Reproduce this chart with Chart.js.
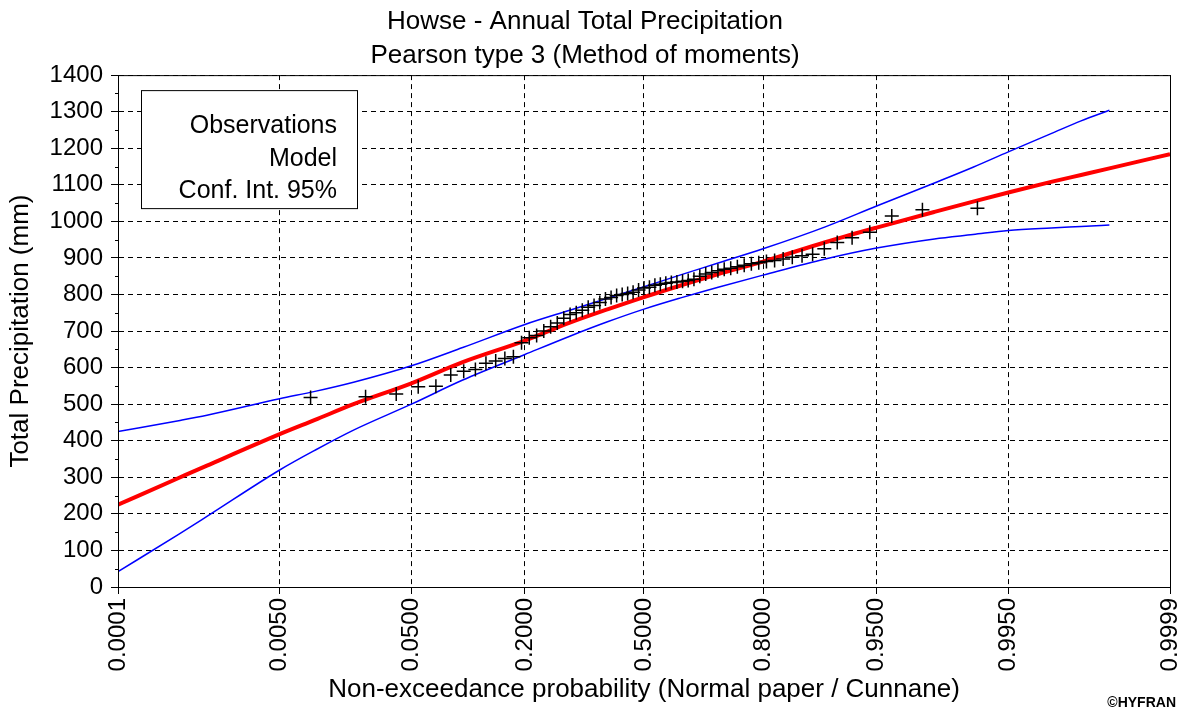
<!DOCTYPE html>
<html>
<head>
<meta charset="utf-8">
<title>Howse - Annual Total Precipitation</title>
<script src="https://cdn.jsdelivr.net/npm/chart.js@4.4.1/dist/chart.umd.min.js"></script>
<style>
  html, body { margin: 0; padding: 0; background: #fff; }
  #wrap { width: 1183px; height: 712px; }
</style>
</head>
<body>
<div id="wrap"><canvas id="freqChart" width="1183" height="712"></canvas></div>
<script>
// probability axis (normal paper)
const xTickProbs = [0.0001, 0.005, 0.05, 0.2, 0.5, 0.8, 0.95, 0.995, 0.9999]
const xTickLabels = ["0.0001", "0.0050", "0.0500", "0.2000", "0.5000", "0.8000", "0.9500", "0.9950", "0.9999"]

// observations (Cunnane plotting positions)
const obsProbs = [
  0.0092, 0.0245, 0.0399, 0.0552, 0.0706, 0.0859, 0.1012, 0.1166, 0.1319, 0.1472,
  0.1626, 0.1779, 0.1933, 0.2086, 0.2239, 0.2393, 0.2546, 0.2699, 0.2853, 0.3006,
  0.3160, 0.3313, 0.3466, 0.3620, 0.3773, 0.3926, 0.4080, 0.4233, 0.4387, 0.4540,
  0.4693, 0.4847, 0.5000, 0.5153, 0.5307, 0.5460, 0.5613, 0.5767, 0.5920, 0.6074,
  0.6227, 0.6380, 0.6534, 0.6687, 0.6840, 0.6994, 0.7147, 0.7301, 0.7454, 0.7607,
  0.7761, 0.7914, 0.8067, 0.8221, 0.8374, 0.8528, 0.8681, 0.8834, 0.8988, 0.9141,
  0.9294, 0.9448, 0.9601, 0.9755, 0.9908
]
const obsValues = [
  518, 520, 528, 548, 549, 580, 590, 595, 612, 618,
  625, 630, 668, 682, 688, 700, 712, 722, 735, 745,
  750, 757, 765, 770, 778, 788, 792, 797, 800, 803,
  806, 812, 818, 820, 825, 828, 831, 833, 834, 836,
  838, 842, 850, 856, 860, 865, 869, 872, 876, 880,
  884, 887, 890, 893, 897, 902, 906, 910, 925, 942,
  955, 970, 1015, 1032, 1036
]

// fitted Pearson III
const modelProbs = [0.0001, 0.0005, 0.001, 0.005, 0.01, 0.02, 0.05, 0.1, 0.2, 0.3, 0.4, 0.5,
  0.6, 0.7, 0.8, 0.9, 0.95, 0.98, 0.99, 0.995, 0.998, 0.999, 0.9995, 0.9999]
const modelValues = [225, 298, 332, 418, 457, 500, 557, 615, 674, 723, 760, 793,
  824, 856, 890, 943, 983, 1026, 1054, 1079, 1108, 1127, 1145, 1184]

// 95% confidence interval
const ciProbs = [0.0001, 0.0005, 0.001, 0.005, 0.01, 0.02, 0.05, 0.1, 0.2, 0.3, 0.4, 0.5,
  0.6, 0.7, 0.8, 0.9, 0.95, 0.98, 0.99, 0.995, 0.998, 0.999, 0.9995]
const ciUpper = [425, 455, 470, 515, 535, 560, 605, 655, 718, 757, 790, 821,
  853, 886, 925, 985, 1042, 1105, 1148, 1190, 1240, 1275, 1304]
const ciLower = [42, 144, 193, 320, 374, 429, 500, 566, 636, 686, 726, 760,
  790, 820, 853, 897, 927, 952, 964, 975, 982, 986, 990]

const legendLabels = ["Observations", "Model", "Conf. Int. 95%"]

// inverse standard normal (Acklam)
function normInv(p) {
  const a = [-39.69683028665376, 220.9460984245205, -275.9285104469687, 138.3577518672690, -30.66479806614716, 2.506628277459239]
  const b = [-54.47609879822406, 161.5858368580409, -155.6989798598866, 66.80131188771972, -13.28068155288572]
  const c = [-0.007784894002430293, -0.3223964580411365, -2.400758277161838, -2.549732539343734, 4.374664141464968, 2.938163982698783]
  const d = [0.007784695709041462, 0.3224671290700398, 2.445134137142996, 3.754408661907416]
  const plow = 0.02425
  if (p < plow) {
    const q = Math.sqrt(-2 * Math.log(p))
    return (((((c[0]*q+c[1])*q+c[2])*q+c[3])*q+c[4])*q+c[5]) / ((((d[0]*q+d[1])*q+d[2])*q+d[3])*q+1)
  }
  if (p <= 1 - plow) {
    const q = p - 0.5, r = q * q
    return (((((a[0]*r+a[1])*r+a[2])*r+a[3])*r+a[4])*r+a[5])*q / (((((b[0]*r+b[1])*r+b[2])*r+b[3])*r+b[4])*r+1)
  }
  const q = Math.sqrt(-2 * Math.log(1 - p))
  return -(((((c[0]*q+c[1])*q+c[2])*q+c[3])*q+c[4])*q+c[5]) / ((((d[0]*q+d[1])*q+d[2])*q+d[3])*q+1)
}

function toPoints(probs, values) {
  return probs.map((p, i) => ({ x: normInv(p), y: values[i] }))
}

const fontFamily = '"Liberation Sans", Arial, sans-serif'
Chart.defaults.font.family = fontFamily
Chart.defaults.color = "#000"

// frame, minor ticks, legend box and stamp
const extras = {
  id: "extras",
  afterDraw(chart) {
    const { ctx, chartArea: a, scales: { y } } = chart
    ctx.save()
    ctx.strokeStyle = "#000"
    ctx.lineWidth = 1
    ctx.strokeRect(a.left + 0.5, a.top + 0.5, a.right - a.left, a.bottom - a.top)

    ctx.beginPath()
    for (let v = 50; v < 1400; v += 100) {
      const py = Math.round(y.getPixelForValue(v)) + 0.5
      ctx.moveTo(a.left - 3, py)
      ctx.lineTo(a.left, py)
    }
    ctx.stroke()

    const bx = a.left + 23, by = a.top + 15, bw = 216, bh = 118
    ctx.fillStyle = "#fff"
    ctx.fillRect(bx, by, bw, bh)
    ctx.strokeRect(bx + 0.5, by + 0.5, bw, bh)
    ctx.fillStyle = "#000"
    ctx.font = "25px " + fontFamily
    ctx.textAlign = "right"
    ctx.textBaseline = "middle"
    legendLabels.forEach((t, i) => ctx.fillText(t, bx + bw - 20, by + 36 + i * 32.5))

    ctx.font = "bold 14px " + fontFamily
    ctx.fillText("©HYFRAN", chart.width - 7, chart.height - 9)
    ctx.restore()
  }
}

const gridOpts = { color: "#000", lineWidth: 1, tickColor: "#000", tickLength: 7 }
const borderOpts = { color: "#000", width: 1, dash: [5, 4] }

let config = {
  type: "scatter",
  data: {
    datasets: [
      {
        label: "Observations",
        data: toPoints(obsProbs, obsValues),
        pointStyle: "cross",
        pointRadius: 7,
        borderColor: "#000",
        borderWidth: 1.5,
        showLine: false
      },
      {
        label: "Model",
        data: toPoints(modelProbs, modelValues),
        showLine: true,
        borderColor: "#ff0000",
        borderWidth: 4,
        pointRadius: 0,
        cubicInterpolationMode: "monotone"
      },
      {
        label: "Upper",
        data: toPoints(ciProbs, ciUpper),
        showLine: true,
        borderColor: "#0000ff",
        borderWidth: 1.5,
        pointRadius: 0,
        cubicInterpolationMode: "monotone"
      },
      {
        label: "Lower",
        data: toPoints(ciProbs, ciLower),
        showLine: true,
        borderColor: "#0000ff",
        borderWidth: 1.5,
        pointRadius: 0,
        cubicInterpolationMode: "monotone"
      }
    ]
  },
  options: {
    responsive: false,
    animation: false,
    layout: { padding: { left: 0, right: 13, top: 0, bottom: 0 } },
    plugins: {
      legend: { display: false },
      tooltip: { enabled: false },
      title: {
        display: true,
        text: ["Howse - Annual Total Precipitation", "Pearson type 3 (Method of moments)"],
        color: "#000",
        font: { size: 26, weight: "normal", lineHeight: 1.31 },
        padding: { top: 5, bottom: 2 }
      }
    },
    scales: {
      x: {
        type: "linear",
        min: normInv(0.0001),
        max: normInv(0.9999),
        afterBuildTicks: (s) => { s.ticks = xTickProbs.map(p => ({ value: normInv(p) })) },
        afterFit: (s) => { s.height = 125; s.paddingLeft = 0; s.paddingRight = 0 },
        ticks: {
          autoSkip: false,
          minRotation: 90,
          maxRotation: 90,
          padding: 4,
          font: { size: 24 },
          callback: (v, i) => xTickLabels[i]
        },
        grid: gridOpts,
        border: borderOpts,
        title: {
          display: true,
          text: "Non-exceedance probability (Normal paper / Cunnane)",
          font: { size: 26 },
          padding: { top: 0, bottom: 7 }
        }
      },
      y: {
        min: 0,
        max: 1400,
        afterFit: (s) => { s.width = 118 },
        ticks: { stepSize: 100, padding: 8, font: { size: 24 }, callback: (v) => String(v) },
        grid: gridOpts,
        border: borderOpts,
        title: {
          display: true,
          text: "Total Precipitation (mm)",
          font: { size: 26 },
          padding: { top: 5, bottom: 0 }
        }
      }
    }
  },
  plugins: [extras]
}

let freqChart = new Chart(document.getElementById("freqChart"), config)
</script>
</body>
</html>
